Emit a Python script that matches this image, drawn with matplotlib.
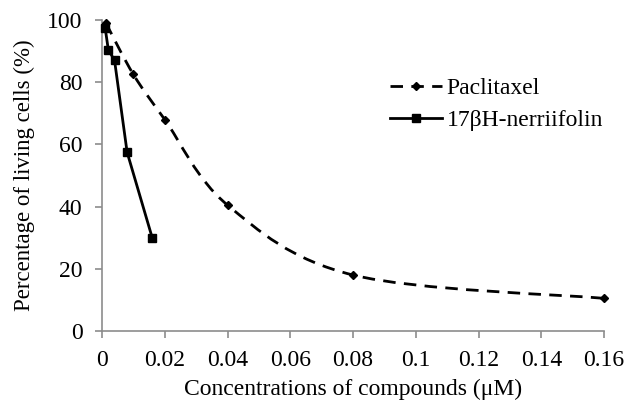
import matplotlib
matplotlib.use("Agg")
import matplotlib.pyplot as plt
from matplotlib.lines import Line2D
from matplotlib.path import Path
from matplotlib.patches import PathPatch
import numpy as np

# data
pac_conc = [0.00125, 0.01, 0.02, 0.04, 0.08, 0.16]
pac_live = [99, 82.5, 68, 40.5, 18, 10.5]

ner_conc = [0.001, 0.002, 0.004, 0.008, 0.016]
ner_live = [97.5, 90.5, 87, 57.5, 30]

x_ticks = [0, 0.02, 0.04, 0.06, 0.08, 0.1, 0.12, 0.14, 0.16]
x_labels = ["0", "0.02", "0.04", "0.06", "0.08", "0.1", "0.12", "0.14", "0.16"]
y_ticks = [0, 20, 40, 60, 80, 100]

plt.rcParams["font.family"] = ["Liberation Serif", "DejaVu Serif"]
plt.rcParams["font.size"] = 17


def smooth_path(ax, xs, ys):
    # Excel-like smoothed line: cubic Bezier through the points (in display space)
    pts = ax.transData.transform(np.column_stack([xs, ys]))
    verts = [pts[0]]
    codes = [Path.MOVETO]
    n = len(pts)
    for i in range(n - 1):
        p0 = pts[i - 1] if i > 0 else pts[i]
        p1 = pts[i]
        p2 = pts[i + 1]
        p3 = pts[i + 2] if i + 2 < n else pts[i + 1]
        c1 = p1 + (p2 - p0) / 6.0
        c2 = p2 - (p3 - p1) / 6.0
        verts += [c1, c2, p2]
        codes += [Path.CURVE4] * 3
    return Path(verts, codes)


fig = plt.figure(figsize=(6.24, 4.01), dpi=100)
ax = fig.add_axes([102 / 624, 1 - 331 / 401, 502 / 624, 311 / 401])
ax.set_xlim(0, 0.16)
ax.set_ylim(0, 100)

fig.canvas.draw()
patch = PathPatch(smooth_path(ax, pac_conc, pac_live), transform=None,
                  facecolor="none", edgecolor="black", lw=2.0,
                  linestyle=(0, (4.5, 3)), clip_on=False)
ax.add_artist(patch)
ax.plot(pac_conc, pac_live, linestyle="none", marker="D", ms=4.5,
        color="black", clip_on=False, zorder=3)

ax.plot(ner_conc, ner_live, "-", color="black", lw=2.0, marker="s", ms=6,
        clip_on=False, zorder=4)

ax.set_xticks(x_ticks)
ax.set_xticklabels(x_labels)
ax.set_yticks(y_ticks)

for side in ("top", "right"):
    ax.spines[side].set_visible(False)
for side in ("left", "bottom"):
    ax.spines[side].set_color("#8c8c8c")
    ax.spines[side].set_linewidth(1.2)
ax.tick_params(colors="#8c8c8c", labelcolor="black", length=5, width=1.2)
ax.tick_params(axis="x", pad=9)
ax.tick_params(axis="y", pad=9)

ax.set_xlabel("Concentrations of compounds (μM)", labelpad=5)
ax.set_ylabel("Percentage of living cells (%)", labelpad=9, fontsize=16.5)

handles = [
    Line2D([], [], color="black", lw=2.0, linestyle=(0, (4.5, 3)), marker="D", ms=4.5),
    Line2D([], [], color="black", lw=2.0, marker="s", ms=6),
]
ax.legend(handles, ["Paclitaxel", "17βH-nerriifolin"], frameon=False,
          loc="upper left", bbox_to_anchor=(0.555, 0.845), handlelength=2.2,
          handletextpad=0.2, labelspacing=0.45, borderaxespad=0)

fig.savefig("out.png", dpi=100)
